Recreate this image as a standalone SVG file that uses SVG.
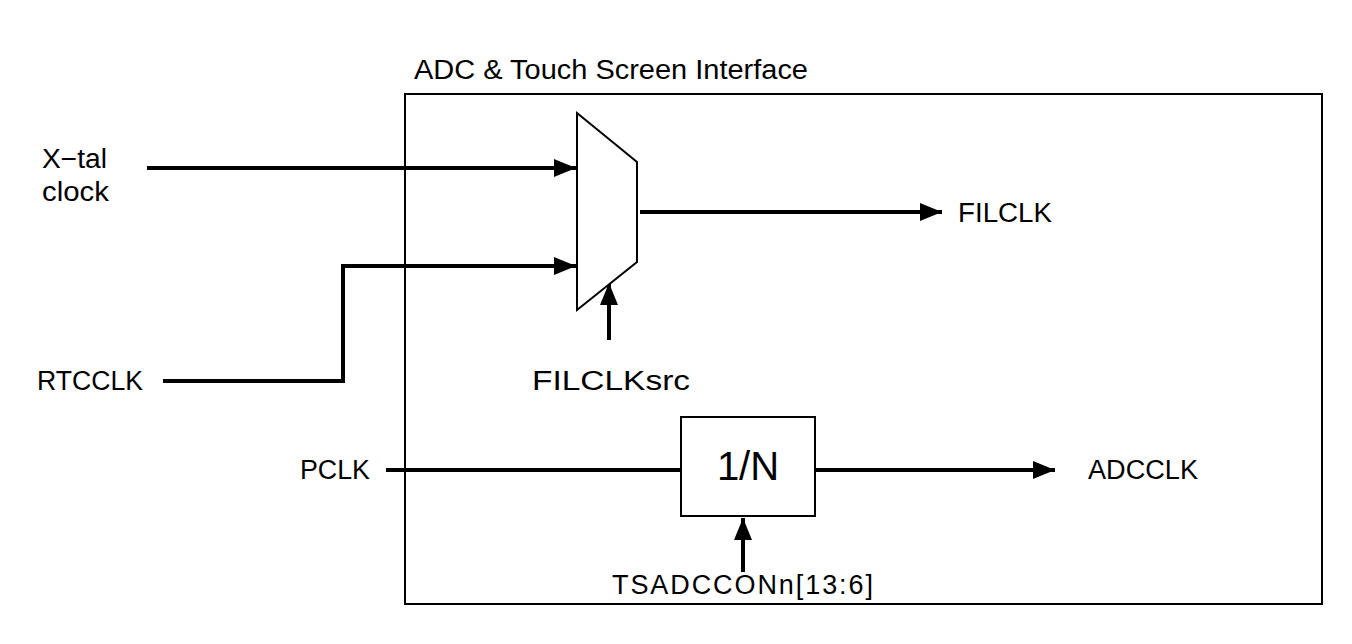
<svg xmlns="http://www.w3.org/2000/svg" width="1352" height="644" viewBox="0 0 1352 644">
<style>
text{font-family:"Liberation Sans",Arial,sans-serif;font-size:27px;fill:#000}
.w{fill:none;stroke:#000;stroke-width:4}
.box{fill:#fff;stroke:#000;stroke-width:2}
</style>
<defs>
<marker id="ah" viewBox="0 0 10 10" refX="10" refY="5" markerWidth="5.5" markerHeight="4.5" markerUnits="strokeWidth" orient="auto" preserveAspectRatio="none">
<path d="M0,0 L10,5 L0,10 Z" fill="#000"/>
</marker>
</defs>
<rect width="1352" height="644" fill="#fff"/>
<g id="frame">
<rect x="405" y="94" width="917" height="510" fill="none" stroke="#000" stroke-width="2"/>
<text x="414" y="79" textLength="394" lengthAdjust="spacingAndGlyphs">ADC &amp; Touch Screen Interface</text>
</g>
<g id="connectors">
<path class="w" d="M147,168 L576,168" marker-end="url(#ah)"/>
<path class="w" d="M163,381 L343,381 L343,266 L576,266" marker-end="url(#ah)"/>
<path class="w" d="M640,212 L942,212" marker-end="url(#ah)"/>
<path class="w" d="M609,340 L609,283" marker-end="url(#ah)"/>
<path class="w" d="M386,470 L681,470"/>
<path class="w" d="M815,470 L1055,470" marker-end="url(#ah)"/>
<path class="w" d="M743,572 L743,518" marker-end="url(#ah)"/>
</g>
<g id="mux">
<path class="box" d="M577,113 L637,162 L637,262 L577,310 Z"/>
</g>
<g id="divider">
<rect class="box" x="681" y="417" width="134" height="99"/>
<text x="748" y="480" text-anchor="middle" style="font-size:40px">1/N</text>
</g>
<g id="labels">
<text x="42" y="168" textLength="65" lengthAdjust="spacingAndGlyphs">X−tal</text>
<text x="42" y="201" textLength="67" lengthAdjust="spacingAndGlyphs">clock</text>
<text x="37" y="390" textLength="106" lengthAdjust="spacingAndGlyphs">RTCCLK</text>
<text x="300" y="479" textLength="70" lengthAdjust="spacingAndGlyphs">PCLK</text>
<text x="532" y="390" textLength="158" lengthAdjust="spacingAndGlyphs">FILCLKsrc</text>
<text x="958" y="222" textLength="94" lengthAdjust="spacingAndGlyphs">FILCLK</text>
<text x="1088" y="479" textLength="110" lengthAdjust="spacingAndGlyphs">ADCCLK</text>
<text x="612" y="594" textLength="261" lengthAdjust="spacing">TSADCCONn[13:6]</text>
</g>
</svg>
